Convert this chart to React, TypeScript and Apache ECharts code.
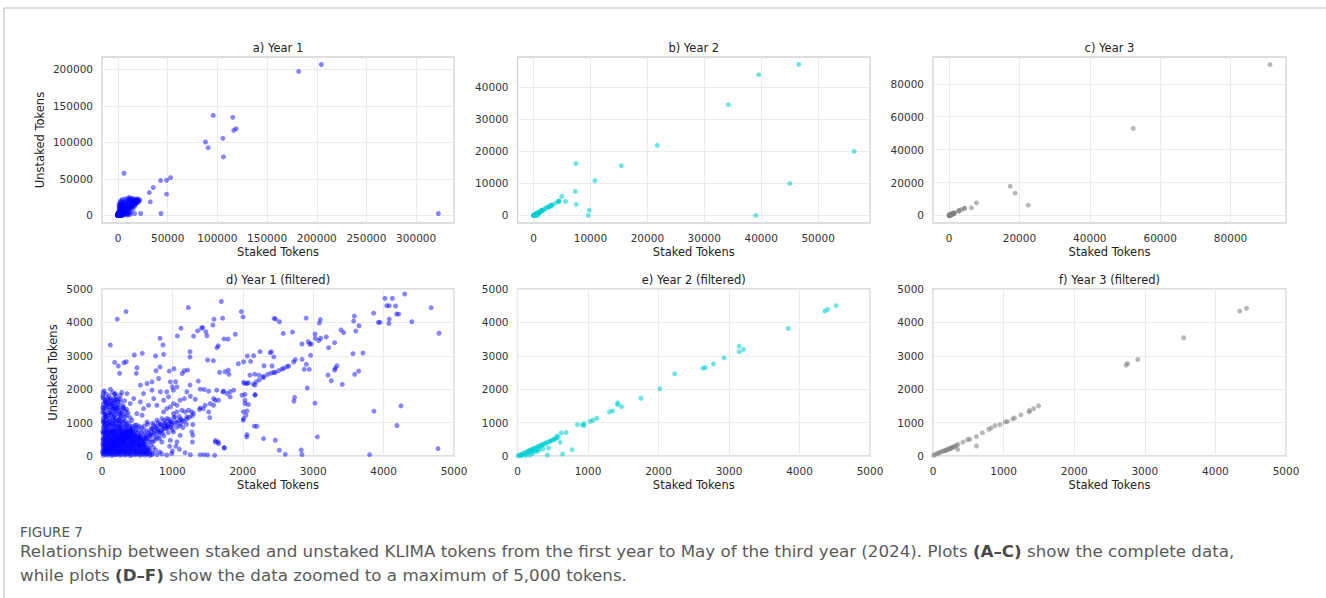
import React, { useEffect, useRef } from "react";
import * as echarts from "echarts";

// ---------- DATA ----------
// Year 1 points with both values <= 5000 (shown in panel d, and in panel a)
const Y1_SMALL: number[][] = [
  [20,20],[80,30],[140,15],[200,35],[260,20],[330,30],[400,15],[470,35],[540,20],[610,30],[680,15],
  [10,100],[60,110],[120,90],[180,105],[250,95],[310,115],[370,90],[440,110],[510,95],[580,105],[650,90],
  [30,200],[90,190],[150,210],[210,195],[280,205],[340,190],[410,210],[480,195],[550,205],[620,190],
  [15,300],[70,310],[130,290],[190,305],[260,295],[320,310],[390,290],[450,305],[520,295],[600,310],
  [40,400],[100,390],[160,410],[220,395],[290,405],[350,390],[420,410],[490,395],[560,405],
  [20,500],[80,490],[140,510],[200,495],[270,505],[330,490],[400,510],[470,495],[540,505],
  [50,600],[110,590],[170,610],[240,595],[300,605],[370,590],[440,610],[500,600],
  [25,700],[90,690],[150,710],[210,695],[280,705],[350,690],[410,710],
  [60,800],[130,790],[190,810],[260,795],[330,805],
  [50,50],[110,55],[170,45],[230,60],[290,50],[360,55],[430,45],[500,60],[570,50],[640,55],[710,45],
  [30,150],[90,145],[150,155],[220,150],[280,160],[340,145],[400,150],[470,155],[540,145],[610,150],[680,160],
  [45,250],[110,245],[170,255],[230,250],[300,245],[360,255],[430,250],[500,245],[570,255],[640,250],
  [35,350],[95,355],[160,345],[220,350],[280,355],[350,345],[420,350],[480,355],[550,345],[620,350],
  [20,450],[80,455],[140,445],[200,450],[260,455],[320,445],[380,450],[450,455],[510,445],[580,450],
  [50,550],[110,545],[170,555],[230,550],[300,545],[360,555],[420,550],[480,545],[550,555],
  [20,650],[80,655],[140,645],[200,650],[260,655],[320,645],[390,650],[460,655],
  [50,750],[120,745],[180,755],[240,750],[300,745],[370,755],[430,750],
  [20,850],[90,855],[160,845],[230,850],[290,860],[380,850],
  [40,950],[110,945],[180,955],[260,950],
  [15,75],[75,80],[135,70],[195,75],[255,80],[325,70],[395,75],[465,80],[535,70],[605,75],[675,80],
  [60,225],[125,230],[190,220],[255,225],[320,230],[385,220],[455,225],[525,230],[595,220],[665,225],
  [55,425],[120,430],[185,420],[250,425],[315,430],[385,420],[455,425],[525,430],[600,420],
  [75,625],[140,630],[205,620],[270,625],[335,630],[405,620],[475,625],[540,630],
  [40,125],[100,120],[160,130],[225,125],[290,120],[355,130],[420,125],[490,120],[560,130],[630,125],
  [10,175],[70,180],[130,170],[195,175],[260,180],[325,170],[390,175],[455,180],[520,170],[590,175],[660,180],
  [25,275],[90,270],[150,280],[215,275],[275,270],[340,280],[405,275],[470,270],[540,280],[615,275],
  [55,325],[115,330],[180,320],[245,325],[305,330],[370,320],[435,325],[505,330],[575,320],
  [10,375],[70,380],[130,370],[190,375],[255,380],[320,370],[385,375],[450,380],[520,370],[590,375],
  [50,475],[110,480],[170,470],[235,475],[295,480],[355,470],[420,475],[490,480],[560,470],
  [15,525],[80,530],[145,520],[210,525],[275,530],[335,520],[395,525],[455,530],[520,520],[590,525],
  [40,575],[100,580],[165,570],[230,575],[290,580],[350,570],[410,575],[470,580],[530,570],
  [45,675],[110,680],[175,670],[240,675],[305,680],[370,670],[440,675],[510,680],
  [10,725],[70,730],[130,720],[195,725],[260,730],[325,720],[390,725],[460,730],
  [30,775],[95,780],[160,770],[220,775],[285,780],[350,770],[410,775],
  [50,900],[130,905],[200,895],[270,900],[350,905],[430,895],
  [30,1030],[90,1010],[170,1060],[240,1090],[310,1000],[50,1200],[180,1200],[270,1200],[120,1280],[20,1400],
  [150,1420],[250,1320],[60,1520],[200,1440],[120,1560],[40,1620],[180,1650],[260,1700],[100,1680],[20,1900],
  [420,820],[480,780],[530,880],[470,920],[400,880],[330,900],[250,860],[160,920],[80,880],
  [60,1000],[150,980],[210,1000],[280,1020],[330,1050],[380,1000],[20,1120],[100,1130],[200,1120],[260,1150],
  [330,1180],[60,1240],[130,1220],[220,1260],[300,1240],[370,1300],[10,1300],[110,1380],[190,1350],[260,1380],
  [330,1350],[40,1460],[160,1480],[230,1520],[300,1460],[10,1450],[90,1540],[150,1580],[220,1620],[50,1650],
  [10,1800],[80,1720],[200,1680],
  [45,150],[105,250],[165,350],[225,450],[285,550],[345,650],[405,750],[115,150],[175,250],[235,350],
  [295,450],[355,550],[415,650],[55,250],[115,350],[175,450],[235,550],[295,650],[355,750],[475,850],
  [520,760],[560,700],[600,650],[640,560],[680,480],[720,420],[690,330],[730,260],[760,180],[720,90],
  [780,40],[850,60],[920,30],[990,70],[820,120],
  [620,620],[660,700],[700,720],[740,780],[790,800],[840,880],[890,900],[940,950],[990,980],[1040,1010],
  [1090,1060],[700,600],[750,660],[800,720],[850,760],[900,830],[950,870],[1000,920],[760,560],[810,620],
  [860,680],[560,850],[600,900],[650,950],[720,980],[800,1000],[880,1060],[950,1100],[1020,1150],[1100,1180],
  [780,900],[830,960],[900,1000],[980,1040],
  [550,560],[620,540],[680,640],[740,700],[800,760],[870,820],[930,900],[980,860],[1060,1000],[1120,1100],
  [640,760],[700,820],[760,860],[840,940],[900,950],[600,480],[660,420],[740,460],[820,520],[880,600],
  [940,700],[1000,780],[1060,860],[1120,960],[1160,1040],[1200,1100],[1240,1160],[1280,1200],
  [30,900],[80,950],[20,1050],[120,1000],[60,1150],[150,1100],[40,1250],[100,1300],[170,1250],[70,1400],
  [130,1450],[200,1500],[60,1600],[140,1650],[230,1700],[100,1800],[180,1850],[15,1740],[250,1000],[300,1100],
  [350,950],[280,1300],[400,1150],[220,900],
  [20,1000],[60,1080],[110,1050],[160,1150],[200,1050],[40,1180],[90,1220],[140,1300],[200,1350],[250,1250],
  [30,1330],[80,1480],[170,1400],[240,1450],[20,1550],[100,1600],[180,1580],[260,1600],[40,1700],[120,1720],
  [200,1780],[60,1850],[150,1900],[300,1500],[350,1400],[320,1650],[280,1900],[30,1950],[120,2000],
  [1610,1670],[1655,1670],[1585,1720],[1440,1420],[1395,1440],[1385,1390],[1465,1520],[1535,1570],[1585,1520],
  [1515,1320],[1715,1920],[1775,1870],[1820,1920],[1820,1770],[1870,1970],[1730,1940],[1630,1970],[1515,1940],
  [1450,1990],[1395,2000],[1325,1700],[1255,1790],[1205,1920],[1170,1720],[1110,1670],[1065,1520],[1015,1570],
  [970,1470],[920,1420],[875,1320],[850,1120],[780,1070],[735,920],[920,1120],[970,1020],[1015,1270],[1065,1320],
  [1135,1370],[1180,1320],[1230,1370],[1275,1320],[1205,1170],[1135,1070],[1040,1170],[920,820],[830,720],
  [780,520],[850,420],[970,470],[1015,720],[1110,620],[685,620],[710,820],[640,1020],[570,1220],[495,1270],
  [590,1420],[660,1520],[545,1620],[450,1720],[400,1570],[780,1520],[875,1670],[945,1770],[1015,1970],
  [1065,2070],[970,2220],[805,2320],[710,2220],[640,2170],[545,2120],[590,1870],[710,1970],[830,1920],
  [920,1920],[735,1720],[355,1870],[260,1820],[190,1870],[165,1720],[140,1520],[213,1420],[307,1420],
  [355,1220],[425,1070],[237,1070],[495,920],[590,770],[640,520],[545,320],[425,420],
  [1065,420],[1050,290],[960,290],[1255,40],[1395,40],[1450,40],[1285,420],[1290,620],[1275,720],[1290,940],
  [1300,1270],[1530,1150],[1735,250],[1610,420],[1655,370],[1180,100],[1100,200],[1000,150],[1150,850],
  [1200,950],[1100,900],
  [4300,4850],[4020,4720],[4125,4720],[4045,4500],[4080,4500],[4170,4490],[4185,4250],[4215,4250],[4080,4100],
  [4075,3970],[4675,4440],[4400,4020],[3925,4000],[3950,4000],[3858,4276],[3585,4190],[3575,4040],[3650,3900],
  [3605,3740],[3395,3775],[3432,3694],[4787,3676],[1695,4625],[1226,4444],[341,4324],[217,4096],[2900,4130],
  [2445,4120],[2466,4100],[2520,4020],[1979,4324],[2003,4165],[1713,4126],[1591,4096],[1575,3920],[1430,3850],
  [1358,3745],[1415,3826],[1122,3826],[1070,3595],[1475,3720],[1490,3600],[1300,3590],[824,3525],[866,3324],
  [875,3045],[118,3324],[459,3024],[572,3075],[761,2994],[1250,3123],[1250,2964],[1633,3243],[1652,3303],
  [1733,3505],[1893,3646],[1790,3500],
  [3101,4085],[3087,3976],[3026,3655],[3030,3525],[3186,3565],[3106,3525],[3078,3455],[2930,3423],[2949,3354],
  [2973,3354],[2841,3354],[3304,3393],[3219,3243],[3565,3063],[3707,3084],[2963,3015],[2705,3710],[2575,3670],
  [179,2805],[232,2694],[312,2793],[345,2823],[250,2474],[497,2643],[487,2474],[767,2553],[824,2664],[1023,2613],
  [956,2543],[1169,2553],[1216,2573],[1140,2470],[1500,2874],[1581,2853],[1368,2243],[1250,2123],[1045,2222],
  [999,2072],[1794,2573],[1804,2444],[1670,2504],[1747,2523],[1936,2763],[2064,2994],[2153,3003],[2244,3123],
  [2301,2703],[2405,3123],[2415,2694],[2011,2823],[2111,2834],[2440,2970],[2390,3090],
  [2102,2423],[2170,2450],[2230,2420],[2290,2380],[2350,2440],[2400,2480],[2440,2500],[2461,2503],[2509,2553],
  [2556,2603],[2580,2623],[2627,2673],[2651,2694],[2722,2815],[2746,2883],[2841,2895],[2031,2174],[2078,2192],
  [2149,2153],[2173,2123],[2190,2220],[2235,2280],[2295,2350],[2060,2170],[2010,2200],
  [2902,2745],[2873,2595],[2944,2595],[3338,2703],[3314,2625],[3304,2574],[3210,2423],[3257,2252],[3413,2144],
  [3589,2444],[3646,2543],[2916,2033],[2736,1753],[2727,1642],[3026,1582],[3863,1342],[4247,1502],[4190,912],
  [3058,571],[2461,471],[2518,171],[2603,51],[2830,180],[2841,42],[3801,42],[4773,222],
  [2173,1823],[2031,1843],[2031,1672],[2031,1572],[2007,1322],[2007,1072],[2054,571],[2295,522],[1614,461],
  [1652,420],[1737,240],[2163,892],[2080,1540],[1990,1820],[2175,1840],[2060,1350],[2045,1220],[2010,1120],
  [2060,640],[2200,890],[1500,30],[1600,20],
];

// Year 1 points beyond 5000 (only in panel a)
const Y1_LARGE: number[][] = [
  [204600,206800],[181800,197300],[322400,2700],[95800,137100],[115500,134400],[118900,118900],[116500,116600],
  [105500,105700],[88000,100700],[90700,92900],[106100,80200],[52900,51900],[48900,48300],[42900,47800],
  [35500,38300],[31500,31400],[48900,29200],[32500,18700],[43200,2700],[22800,2700],[16700,2700],[6000,57900],
  [6000,8000],[7000,5000],[8000,10000],[9000,7000],[10000,12000],[11000,9000],[12000,14000],[13000,11000],
  [14000,16000],[15000,13000],[16000,18000],[17000,15000],[18000,20000],[19000,17000],[20000,21000],
  [21000,19000],[14000,23000],[12500,24000],[8700,20000],[6000,15000],[5500,12000],[7500,14000],[9500,16000],
  [11000,18000],[5500,7000],[6500,3000],[9000,3000],[12000,6000],[15000,9000],[7000,11000],[10000,4500],
  [16500,21000],[18500,22000],[20500,22500],[13000,19000],[5200,9500],[6000,5800],[8000,6500],[3000,6000],
  [1500,8000],[2000,11000],[4000,13000],[3000,16000],[5000,18000],[2500,20000],[1000,14000],[7000,2000],
  [10000,1500],[13000,3500],[3500,9000],
  [5500,5500],[6500,6800],[7500,8000],[8500,8500],[9500,9500],[10500,10000],[11500,11000],[12500,12500],
  [13500,13000],[14500,14500],[15500,15500],[16500,16000],[17500,17500],[6500,10000],[8500,12000],[10500,14000],
  [12500,16000],[14500,18000],[16500,19500],[5200,13500],[6800,16500],[8000,18000],[10000,19500],[11500,21000],
  [13500,21500],[15500,20500],[17500,19000],[19500,20000],[8000,4000],[11000,7000],[14000,11000],[17000,13000],
  [18000,16500],[20000,18500],[4500,15000],[4000,11000],[2500,13000],[1500,17000],[3500,19000],[4500,22000],
  [7000,22500],[9500,23000],[11000,24500],[16000,23000],[19000,22500],[22000,21000],[6000,1000],[9000,500],
  [12000,1200],[4800,8000],[2000,6500],[1000,9500],[3000,11500],[1200,12000],[2200,15000],[4200,17000],
];

const Y2_SMALL: number[][] = [
  [4520,4500],[4400,4390],[4360,4340],[3840,3820],[3145,3290],[3145,3120],[3205,3190],[2930,2940],[2780,2760],
  [2665,2650],[2630,2630],[2230,2460],[2020,2010],[1750,1730],[1420,1590],[1420,1540],[1475,1480],[1350,1350],
  [1305,1320],[1125,1130],[1070,1070],[1030,1040],[945,970],[945,910],[920,930],[850,940],[690,700],[620,690],
  [560,600],[605,410],[640,60],[775,190],[440,240],[360,210],[425,30],
  [20,20],[50,45],[80,80],[110,100],[140,135],[170,165],[200,195],[230,225],[260,250],[290,285],[320,310],
  [350,340],[380,370],[410,395],[440,425],[470,455],[500,480],[530,510],[550,540],[100,60],[150,90],[200,120],
  [250,150],[300,180],[180,30],[120,10],[60,5],[220,80],[280,140],[10,5],[40,25],[160,150],[190,180],[330,300],
  [400,380],[460,440],[520,500],[240,200],[300,260],[360,330],[580,560],
];

const Y2_LARGE: number[][] = [
  [46600,47070],[39570,43850],[34230,34500],[21750,21820],[15420,15480],[10790,10810],[7440,16210],[7330,7480],
  [7500,3430],[4980,5920],[5630,4360],[9790,1660],[9610,0],[39040,0],[45020,9970],[56330,19950],
];

const Y3_SMALL: number[][] = [
  [4440,4420],[4345,4340],[3550,3540],[2900,2890],[2755,2770],[2735,2720],[1495,1500],[1425,1420],[1365,1360],
  [1365,1320],[1245,1230],[1155,1140],[1130,1110],[1055,1030],[1025,1020],[950,940],[880,910],[825,840],
  [790,800],[700,690],[615,580],[615,300],[520,500],[490,490],[425,420],[350,200],[355,350],[290,270],[245,220],
  [220,220],[175,170],[127,140],[80,90],[33,50],[10,20],[270,260],[310,290],[330,320],[200,190],[150,150],
  [100,110],[60,70],[260,240],[230,200],[180,160],
];

const Y3_LARGE: number[][] = [
  [91200,91700],[52350,52900],[17390,17780],[18810,13530],[22520,6260],[7790,7680],[6370,4650],
];

const PANEL_TITLES = [
  "a) Year 1", "b) Year 2", "c) Year 3",
  "d) Year 1 (filtered)", "e) Year 2 (filtered)", "f) Year 3 (filtered)",
];
const X_TICKS_FULL: number[][] = [
  [0, 50000, 100000, 150000, 200000, 250000, 300000],
  [0, 10000, 20000, 30000, 40000, 50000],
  [0, 20000, 40000, 60000, 80000],
];
const Y_TICKS_FULL: number[][] = [
  [0, 50000, 100000, 150000, 200000],
  [0, 10000, 20000, 30000, 40000],
  [0, 20000, 40000, 60000, 80000],
];
const FILTERED_TICKS = [0, 1000, 2000, 3000, 4000, 5000];
const FILTER_MAX = 5000;

const X_NAME = "Staked Tokens";
const Y_NAME = "Unstaked Tokens";
const CAPTION_LABEL = "FIGURE 7";
const CAPTION_LINE1 =
  "Relationship between staked and unstaked KLIMA tokens from the first year to May of the third year (2024). Plots {b|(A–C)} show the complete data,";
const CAPTION_LINE2 = "while plots {b|(D–F)} show the data zoomed to a maximum of 5,000 tokens.";

// ---------- layout / style ----------
const COLORS = ["rgba(0,0,255,0.6)", "rgba(0,206,209,0.7)", "rgba(128,128,128,0.7)"];
const FULL_X_RANGE: number[][] = [[-16100, 338100], [-2815, 59115], [-4560, 95760]];
const FULL_Y_RANGE: number[][] = [[-10300, 217100], [-2350, 49350], [-4585, 96285]];
const COL_LEFT = [102, 517.5, 933];
const COL_WIDTH = [352, 352.5, 353];
const ROW_TOP = [57, 289];
const ROW_HEIGHT = [166, 167];
const TITLE_Y = [47.5, 280];
const FONT = "DejaVu Sans";

export default function App() {
  const ref = useRef<HTMLDivElement>(null);

  useEffect(() => {
    if (!ref.current) return;
    const chart = echarts.init(ref.current, undefined, { renderer: "svg" });

    const full = [
      [...Y1_SMALL, ...Y1_LARGE],
      [...Y2_SMALL, ...Y2_LARGE],
      [...Y3_SMALL, ...Y3_LARGE],
    ];
    const filtered = full.map((d) => d.filter((p) => p[0] <= FILTER_MAX && p[1] <= FILTER_MAX));

    const grids: any[] = [];
    const xAxes: any[] = [];
    const yAxes: any[] = [];
    const series: any[] = [];
    const graphics: any[] = [];

    const plain = (v: number) => String(v);
    const labelStyle = { color: "#333", fontSize: 10.5, fontFamily: FONT, formatter: plain };
    const nameStyle = { color: "#222", fontSize: 11.5, fontFamily: FONT };

    for (let r = 0; r < 2; r++) {
      for (let c = 0; c < 3; c++) {
        const i = r * 3 + c;
        grids.push({
          left: COL_LEFT[c],
          top: ROW_TOP[r],
          width: COL_WIDTH[c],
          height: ROW_HEIGHT[r],
          show: true,
          backgroundColor: "#fff",
          borderColor: "#d2d2d2",
          borderWidth: 1.3,
        });
        const isFull = r === 0;
        const xTicks = isFull ? X_TICKS_FULL[c] : FILTERED_TICKS;
        const yTicks = isFull ? Y_TICKS_FULL[c] : FILTERED_TICKS;
        const xr = isFull ? FULL_X_RANGE[c] : [0, FILTER_MAX];
        const yr = isFull ? FULL_Y_RANGE[c] : [0, FILTER_MAX];
        xAxes.push({
          type: "value",
          gridIndex: i,
          min: xr[0],
          max: xr[1],
          axisLine: { show: false },
          axisTick: { show: false, customValues: xTicks },
          axisLabel: { ...labelStyle, customValues: xTicks, margin: 9, showMinLabel: true, showMaxLabel: true },
          splitLine: { show: true, lineStyle: { color: "#ebebeb", width: 1 } },
          name: X_NAME,
          nameLocation: "middle",
          nameGap: 23,
          nameTextStyle: nameStyle,
        });
        yAxes.push({
          type: "value",
          gridIndex: i,
          min: yr[0],
          max: yr[1],
          axisLine: { show: false },
          axisTick: { show: false, customValues: yTicks },
          axisLabel: { ...labelStyle, customValues: yTicks, margin: 9, showMinLabel: true, showMaxLabel: true },
          splitLine: { show: true, lineStyle: { color: "#ebebeb", width: 1 } },
          name: c === 0 ? Y_NAME : "",
          nameLocation: "middle",
          nameGap: isFull ? 56 : 43,
          nameTextStyle: nameStyle,
        });
        series.push({
          type: "scatter",
          xAxisIndex: i,
          yAxisIndex: i,
          data: isFull ? full[c] : filtered[c],
          symbolSize: 5,
          itemStyle: { color: COLORS[c] },
          emphasis: { disabled: true },
          silent: true,
        });
        graphics.push({
          type: "text",
          x: COL_LEFT[c] + COL_WIDTH[c] / 2,
          y: TITLE_Y[r],
          style: {
            text: PANEL_TITLES[i],
            fill: "#222",
            font: `11.5px "${FONT}"`,
            textAlign: "center",
            textVerticalAlign: "middle",
          },
        });
      }
    }

    // figure frame
    graphics.push({ type: "line", shape: { x1: 4, y1: 8, x2: 1326, y2: 8 }, style: { stroke: "#cfcfcf", lineWidth: 1.5 } });
    graphics.push({ type: "line", shape: { x1: 4, y1: 8, x2: 4, y2: 598 }, style: { stroke: "#cfcfcf", lineWidth: 1.5 } });

    const capFont = '"DejaVu Sans"';
    const rich = { b: { fontWeight: "bold", fontSize: 16.7, fontFamily: "DejaVu Sans", fill: "#4a4a4a" } };
    graphics.push({
      type: "text", x: 20, y: 532,
      style: { text: CAPTION_LABEL, fill: "#555", font: `13.5px ${capFont}`, textAlign: "left", textVerticalAlign: "middle" },
    });
    graphics.push({
      type: "text", x: 20, y: 551,
      style: { text: CAPTION_LINE1, rich, fill: "#5a5a5a", font: `16.7px ${capFont}`, textAlign: "left", textVerticalAlign: "middle" },
    });
    graphics.push({
      type: "text", x: 20, y: 575,
      style: { text: CAPTION_LINE2, rich, fill: "#5a5a5a", font: `16.7px ${capFont}`, textAlign: "left", textVerticalAlign: "middle" },
    });

    chart.setOption({
      animation: false,
      backgroundColor: "#fff",
      grid: grids,
      xAxis: xAxes,
      yAxis: yAxes,
      series,
      graphic: graphics,
    });

    return () => chart.dispose();
  }, []);

  return (
    <div
      ref={ref}
      style={{ position: "absolute", left: 0, top: 0, width: 1326, height: 598 }}
    />
  );
}
